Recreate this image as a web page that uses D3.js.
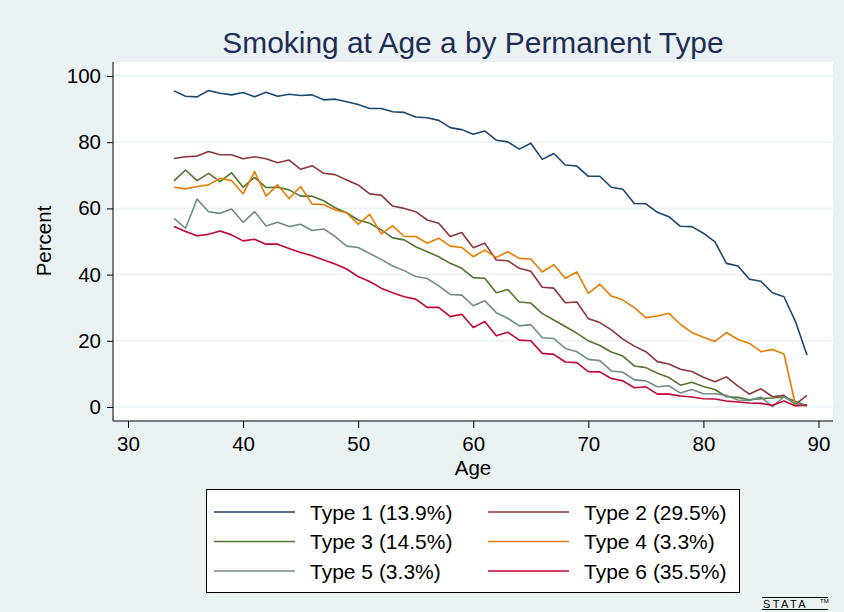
<!DOCTYPE html>
<html>
<head>
<meta charset="utf-8">
<script src="https://cdn.jsdelivr.net/npm/d3@7"></script>
<style>
  html, body { margin: 0; padding: 0; background: #eaf2f3; }
  svg { display: block; font-family: "Liberation Sans", Arial, sans-serif; }
</style>
</head>
<body>
<svg id="chart" width="844" height="612"></svg>
<script>
// Share of respondents smoking at each age, by latent (permanent) smoker type
const ages = d3.range(34, 90);

const type1 = [95.5, 93.9, 93.7, 95.6, 94.8, 94.3, 95.0, 93.7, 95.1, 93.9, 94.5, 94.1, 94.3, 92.8, 93.0, 92.2,
  91.4, 90.2, 90.2, 89.2, 89.0, 87.6, 87.4, 86.6, 84.4, 83.8, 82.4, 83.4, 80.6, 80.1, 77.9, 79.7,
  74.8, 76.6, 73.1, 72.8, 69.7, 69.7, 66.4, 65.8, 61.5, 61.4, 58.8, 57.5, 54.6, 54.5, 52.5, 49.9,
  43.4, 42.6, 38.6, 38.0, 34.5, 33.3, 25.8, 15.7];
const type2 = [75.1, 75.6, 75.8, 77.2, 76.2, 76.2, 75.0, 75.6, 75.0, 73.8, 74.6, 71.8, 72.9, 70.6, 70.2, 68.6,
  67.1, 64.4, 64.0, 60.7, 60.0, 59.0, 56.5, 55.5, 51.5, 52.7, 48.1, 49.5, 44.4, 44.2, 41.9, 41.0,
  36.2, 35.9, 31.5, 31.7, 26.7, 25.5, 23.3, 20.5, 18.4, 16.7, 13.7, 13.0, 11.4, 10.7, 9.0, 7.6,
  9.1, 6.3, 3.9, 5.5, 3.1, 3.5, 0.8, 3.5];
const type3 = [68.3, 71.6, 68.4, 70.6, 68.1, 70.8, 66.4, 69.4, 66.3, 66.4, 65.6, 63.7, 63.7, 62.3, 60.2, 58.7,
  56.5, 55.5, 53.5, 51.1, 50.5, 48.4, 46.9, 45.4, 43.4, 41.9, 39.1, 38.9, 34.5, 35.5, 31.7, 31.4,
  28.2, 26.3, 24.3, 22.3, 20.0, 18.6, 16.6, 15.4, 12.4, 11.9, 10.2, 8.9, 6.6, 7.5, 6.2, 5.3,
  3.1, 2.9, 2.2, 2.5, 2.7, 3.0, 1.7, 0.3];
const type4 = [66.4, 65.9, 66.6, 67.1, 69.1, 68.4, 64.4, 71.1, 63.7, 67.1, 63.0, 66.6, 61.3, 61.2, 59.5, 58.7,
  55.2, 58.2, 52.3, 54.7, 51.5, 51.5, 49.5, 51.0, 48.6, 48.2, 45.4, 47.4, 45.2, 46.9, 44.9, 44.7,
  40.8, 43.0, 38.9, 40.8, 34.3, 37.1, 33.5, 32.3, 30.0, 27.0, 27.5, 28.3, 25.0, 22.5, 21.1, 19.8,
  22.5, 20.4, 19.2, 16.7, 17.4, 16.0, 0.6, 0.4];
const type5 = [57.0, 54.0, 62.8, 59.0, 58.5, 59.8, 55.8, 59.0, 54.7, 55.8, 54.5, 55.2, 53.3, 53.8, 51.5, 48.6,
  48.2, 46.4, 44.6, 42.6, 41.2, 39.4, 38.8, 36.6, 34.0, 33.8, 30.6, 32.1, 28.5, 26.8, 24.5, 24.9,
  20.9, 20.7, 17.7, 16.7, 14.4, 14.0, 10.9, 10.5, 8.2, 7.9, 6.1, 6.4, 4.2, 5.3, 4.0, 4.0,
  3.5, 2.1, 2.0, 3.0, 0.1, 3.1, 0.9, 0.6];
const type6 = [54.5, 53.0, 51.7, 52.2, 53.2, 52.0, 50.2, 50.7, 49.2, 49.2, 47.9, 46.7, 45.7, 44.4, 43.2, 41.7,
  39.4, 37.9, 35.9, 34.5, 33.3, 32.6, 30.1, 30.1, 27.3, 28.0, 24.0, 25.8, 21.5, 22.6, 20.2, 20.0,
  16.2, 15.9, 13.6, 13.4, 10.7, 10.6, 8.6, 7.9, 5.8, 6.1, 3.9, 3.9, 3.3, 3.0, 2.5, 2.4,
  1.8, 1.5, 1.2, 1.1, 0.5, 1.8, 0.3, 0.6];

const seriesNames = ["Type 1 (13.9%)", "Type 2 (29.5%)", "Type 3 (14.5%)",
                     "Type 4 (3.3%)", "Type 5 (3.3%)", "Type 6 (35.5%)"];
const seriesValues = [type1, type2, type3, type4, type5, type6];
const seriesColors = ["#1a476f", "#90353b", "#55752f", "#e37e00", "#6e8e84", "#c10534"];

const xTicks = [30, 40, 50, 60, 70, 80, 90];
const yTicks = [0, 20, 40, 60, 80, 100];

const svg = d3.select("#chart");
const W = 844, H = 612;

svg.append("rect").attr("width", W).attr("height", H).attr("fill", "#eaf2f3");

// plot region
const plot = { left: 113, right: 833, top: 62, bottom: 421 };
const x = d3.scaleLinear().domain([30, 90]).range([128, 818.5]);
const y = d3.scaleLinear().domain([0, 100]).range([407, 76]);

svg.append("rect")
  .attr("x", plot.left).attr("y", plot.top)
  .attr("width", plot.right - plot.left).attr("height", plot.bottom - plot.top)
  .attr("fill", "#ffffff");

// horizontal grid
svg.append("g").selectAll("line").data(yTicks).join("line")
  .attr("x1", plot.left).attr("x2", plot.right)
  .attr("y1", d => y(d)).attr("y2", d => y(d))
  .attr("stroke", "#eaf2f3").attr("stroke-width", 1.5);

// lines
const line = d3.line().x((d, i) => x(ages[i])).y(d => y(d));
svg.append("g").selectAll("path").data(seriesValues).join("path")
  .attr("d", d => line(d))
  .attr("fill", "none")
  .attr("stroke", (d, i) => seriesColors[i])
  .attr("stroke-width", 1.6)
  .attr("stroke-linejoin", "round");

// axes
const yAxis = d3.axisLeft(y).tickValues(yTicks).tickSize(6).tickPadding(6);
const gy = svg.append("g").attr("transform", `translate(${plot.left},0)`).call(yAxis);
gy.select(".domain").remove();
gy.append("line").attr("x1", 0).attr("x2", 0).attr("y1", plot.top).attr("y2", plot.bottom)
  .attr("stroke", "#000").attr("stroke-width", 1);

const xAxis = d3.axisBottom(x).tickValues(xTicks).tickSize(7).tickPadding(8);
const gx = svg.append("g").attr("transform", `translate(0,${plot.bottom})`).call(xAxis);
gx.select(".domain").remove();
gx.append("line").attr("x1", plot.left).attr("x2", plot.right).attr("y1", 0).attr("y2", 0)
  .attr("stroke", "#000").attr("stroke-width", 1);

svg.selectAll(".tick text")
  .attr("font-family", "'Liberation Sans', Arial, sans-serif")
  .attr("font-size", 20.5).attr("fill", "#000");
svg.selectAll(".tick line").attr("stroke", "#000");

// titles
svg.append("text").attr("x", 473).attr("y", 53).attr("text-anchor", "middle")
  .attr("font-size", 29.9).attr("fill", "#1e2d53")
  .text("Smoking at Age a by Permanent Type");

svg.append("text").attr("x", 473).attr("y", 475).attr("text-anchor", "middle")
  .attr("font-size", 20.5).attr("fill", "#000").text("Age");

svg.append("text").attr("transform", "translate(51,241) rotate(-90)")
  .attr("text-anchor", "middle").attr("font-size", 20.5).attr("fill", "#000").text("Percent");

// legend
const legend = svg.append("g");
legend.append("rect").attr("x", 206.5).attr("y", 489.5).attr("width", 533).attr("height", 103)
  .attr("fill", "#fff").attr("stroke", "#000").attr("stroke-width", 1);

const legItems = legend.selectAll("g.item").data(seriesNames).join("g")
  .attr("class", "item")
  .attr("transform", (d, i) => `translate(${i % 2 === 0 ? 214 : 488},${512 + Math.floor(i / 2) * 29.5})`);
legItems.append("line").attr("x1", 0).attr("x2", 81).attr("y1", 0).attr("y2", 0)
  .attr("stroke", (d, i) => seriesColors[i]).attr("stroke-width", 1.6);
legItems.append("text").attr("x", 96).attr("y", 7.5).attr("font-size", 21).attr("fill", "#000")
  .text(d => d);

// stata mark
const mark = svg.append("g").attr("transform", "translate(762,597)");
mark.append("line").attr("x1", 0).attr("x2", 66).attr("y1", 0.5).attr("y2", 0.5).attr("stroke", "#000");
mark.append("line").attr("x1", 0).attr("x2", 66).attr("y1", 12.5).attr("y2", 12.5).attr("stroke", "#000");
mark.append("text").attr("x", 1).attr("y", 10.5).attr("font-size", 11).attr("letter-spacing", 2.4)
  .attr("fill", "#000").text("STATA");
mark.append("text").attr("x", 58).attr("y", 6).attr("font-size", 6).attr("fill", "#000").text("TM");
</script>
</body>
</html>
